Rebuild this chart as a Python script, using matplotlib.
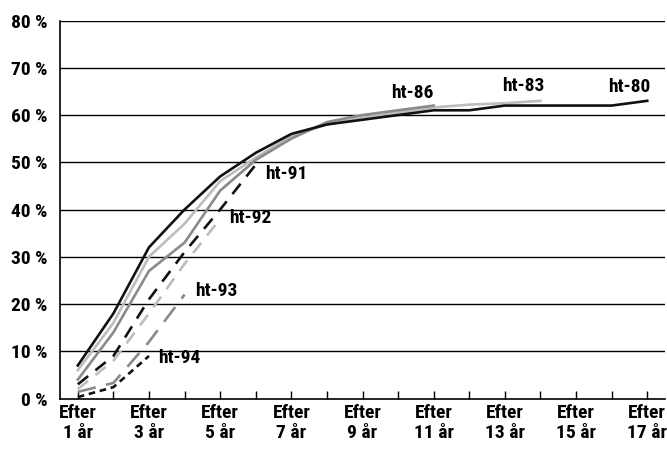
import matplotlib.pyplot as plt
from matplotlib import font_manager
import numpy as np

# smal typsnitt om det finns, annars Lato
namn = {f.name for f in font_manager.fontManager.ttflist}
smala = [n for n in ['Roboto Condensed', 'Liberation Sans Narrow',
                     'Open Sans Condensed', 'Noto Sans Condensed'] if n in namn]
if smala:
    plt.rcParams['font.family'] = [smala[0], 'DejaVu Sans']
    fs = 14
else:
    plt.rcParams['font.family'] = ['Lato', 'DejaVu Sans']
    fs = 13
plt.rcParams['font.weight'] = 'bold'

# andel (%) per kull, efter antal år
ar_80 = list(range(1, 18))
ht_80 = [7, 18, 32, 40, 47, 52, 56, 58, 59, 60, 61, 61, 62, 62, 62, 62, 63]
ar_83 = list(range(1, 15))
ht_83 = [6, 16, 30, 37, 46, 51, 55.5, 58, 59.5, 60.5, 61.6, 62.2, 62.5, 63]
ar_86 = list(range(1, 12))
ht_86 = [4, 14, 27, 33, 44, 50.5, 55, 58.5, 60, 61, 62]
ar_91 = [1, 2, 3, 4, 5, 6]
ht_91 = [3, 9, 21, 31, 40, 49.5]
ar_92 = [1, 2, 3, 4, 5]
ht_92 = [2, 8, 18, 28.5, 38]
ar_93 = [1, 2, 3, 4]
ht_93 = [1.4, 3.3, 12, 22]
ar_94 = [1, 2, 3]
ht_94 = [0.3, 2.4, 9]

svart = '#111111'
ljusgra = '#bdbdbd'
gra = '#8a8a8a'

fig = plt.figure(figsize=(6.67, 4.51), dpi=100)
ax = fig.add_axes([0.09, 0.1164, 0.907, 0.8381])

ax.set_ylim(0, 80)
ax.set_xlim(0.5, 17.5)
for v in range(10, 90, 10):
    ax.axhline(v, color='black', lw=1.0, zorder=1)

lw = 1.9
ax.plot(ar_83, ht_83, color=ljusgra, lw=lw, zorder=3)
ax.plot(ar_86, ht_86, color=gra, lw=lw, zorder=4)
ax.plot(ar_80, ht_80, color=svart, lw=lw, zorder=5)
ax.plot(ar_92, ht_92, color=ljusgra, lw=lw, dashes=(5, 3.5), zorder=3)
ax.plot(ar_93, ht_93, color=gra, lw=lw, dashes=(7, 4), zorder=3)
ax.plot(ar_91, ht_91, color=svart, lw=lw, dashes=(5, 3.5), zorder=4)
ax.plot(ar_94, ht_94, color=svart, lw=lw, dashes=(2.5, 1.8), zorder=4)

# etiketter: (text, x, y, justering)
etiketter = [('ht-80', 17.1, 66.0, 'right'), ('ht-83', 14.1, 66.2, 'right'),
             ('ht-86', 11.0, 64.6, 'right'),
             ('ht-91', 6.25, 47.5, 'left'), ('ht-92', 5.25, 38.2, 'left'),
             ('ht-93', 4.3, 22.7, 'left'), ('ht-94', 3.25, 8.5, 'left')]
for txt, xx, yy, ha in etiketter:
    ax.text(xx, yy, txt, ha=ha, va='center', fontsize=fs, fontweight='bold')

ax.set_yticks(range(0, 90, 10))
ax.set_yticklabels([f'{v} %' for v in range(0, 90, 10)], fontsize=fs)
ax.tick_params(axis='y', length=0, pad=9)

ax.set_xticks(range(1, 18, 2))
ax.set_xticklabels([f'Efter\n{n} år' for n in range(1, 18, 2)], fontsize=fs,
                   linespacing=1.15)
ax.set_xticks(range(1, 18), minor=True)
ax.tick_params(axis='x', which='both', direction='in', length=6, width=1,
               pad=4)

for s in ['top', 'right']:
    ax.spines[s].set_visible(False)
ax.spines['left'].set_linewidth(1.2)
ax.spines['bottom'].set_linewidth(1.2)

fig.savefig('out.png', dpi=100)
